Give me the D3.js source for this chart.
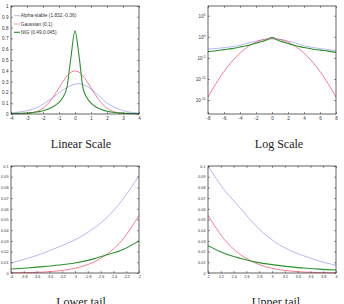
<!DOCTYPE html>
<html>
<head>
<meta charset="utf-8">
<style>
  body { margin: 0; background: #fff; }
  text { font-family: "Liberation Sans", Arial, sans-serif; }
</style>
</head>
<body>
<script src="https://d3js.org/d3.v7.min.js"></script>
<script>
// x grid shared by the three densities
var xs = [-8, -7, -6, -5, -4, -3.75, -3.5, -3.25, -3, -2.75, -2.5, -2.25, -2, -1.75, -1.5, -1.25, -1, -0.75, -0.5, -0.25,
          0, 0.25, 0.5, 0.75, 1, 1.25, 1.5, 1.75, 2, 2.25, 2.5, 2.75, 3, 3.25, 3.5, 3.75, 4, 5, 6, 7, 8];

// Alpha-stable (1.832,-0.36)
var alphaStable = [0.0012, 0.0017, 0.0027, 0.0048, 0.0095, 0.0135, 0.0185, 0.0245, 0.031, 0.040, 0.052, 0.069, 0.091, 0.115, 0.141, 0.168, 0.195, 0.222, 0.246, 0.264,
                   0.276, 0.280, 0.273, 0.256, 0.232, 0.201, 0.168, 0.134, 0.100, 0.078, 0.061, 0.044, 0.031, 0.022, 0.016, 0.011, 0.0072, 0.0032, 0.0016, 0.0009, 0.0005];
// Gaussian (0,1)
var gaussian = [5.05e-15, 9.13e-12, 6.08e-9, 1.49e-6, 1.34e-4, 3.5e-4, 8.7e-4, 2.03e-3, 4.43e-3, 9.1e-3, 0.0175, 0.0317, 0.054, 0.0863, 0.1295, 0.1826, 0.242, 0.3011, 0.3521, 0.3867,
                0.3989, 0.3867, 0.3521, 0.3011, 0.242, 0.1826, 0.1295, 0.0863, 0.054, 0.0317, 0.0175, 9.1e-3, 4.43e-3, 2.03e-3, 8.7e-4, 3.5e-4, 1.34e-4, 1.49e-6, 6.08e-9, 9.13e-12, 5.05e-15];
// NIG (0.49,0.045)
var nig = [3e-4, 5e-4, 9e-4, 1.6e-3, 3.7e-3, 4.7e-3, 6.0e-3, 7.5e-3, 9.4e-3, 0.0125, 0.017, 0.022, 0.030, 0.041, 0.057, 0.079, 0.108, 0.155, 0.25, 0.53,
           0.77, 0.54, 0.24, 0.15, 0.10, 0.072, 0.051, 0.036, 0.0255, 0.0185, 0.0138, 0.0102, 0.0078, 0.006, 0.0047, 0.0036, 0.0028, 0.0013, 0.0007, 0.0004, 0.0002];

var seriesNames = ["Alpha-stable (1.832,-0.36)", "Gaussian (0,1)", "NIG (0.49,0.045)"];
var seriesValues = [alphaStable, gaussian, nig];
var seriesColors = ["#9a9af0", "#ee4a66", "#2c922c"];
var seriesWidths = [0.7, 0.7, 1.1];
var legendDash = [null, "1.5,0.8", null];

// tick labels
var linXTicks = [-4, -3, -2, -1, 0, 1, 2, 3, 4];
var linYTicks = [0, 0.1, 0.2, 0.3, 0.4, 0.5, 0.6, 0.7, 0.8, 0.9, 1];
var logXTicks = [-8, -6, -4, -2, 0, 2, 4, 6, 8];
var logYExps = [5, 0, -5, -10, -15];
var lowXTicks = [-4, -3.8, -3.6, -3.4, -3.2, -3, -2.8, -2.6, -2.4, -2.2, -2];
var upXTicks = [2, 2.2, 2.4, 2.6, 2.8, 3, 3.2, 3.4, 3.6, 3.8, 4];
var tailYTicks = [0, 0.01, 0.02, 0.03, 0.04, 0.05, 0.06, 0.07, 0.08, 0.09, 0.1];

var svg = d3.select("body").append("svg")
    .attr("width", 344)
    .attr("height", 304);

var fmt = function(d) { return String(+d.toFixed(3)); };

function drawPanel(p) {
    var g = svg.append("g").attr("transform", "translate(" + p.left + "," + p.top + ")");
    var x = d3.scaleLinear().domain(p.xDomain).range([0, p.w]);
    var y = p.log ? d3.scaleLog().domain(p.yDomain).range([p.h, 0])
                  : d3.scaleLinear().domain(p.yDomain).range([p.h, 0]);

    // curves
    var clipId = "clip" + p.id;
    g.append("clipPath").attr("id", clipId).append("rect")
        .attr("width", p.w).attr("height", p.h + 0.5);
    var pts = xs.map(function(v, i) { return i; })
                .filter(function(i) { return xs[i] >= p.xDomain[0] - 1e-9 && xs[i] <= p.xDomain[1] + 1e-9; });
    for (var s = 0; s < seriesValues.length; s++) {
        var vals = seriesValues[s];
        var line = d3.line()
            .x(function(i) { return x(xs[i]); })
            .y(function(i) { return y(vals[i]); })
            .curve(d3.curveMonotoneX);
        g.append("path")
            .attr("d", line(pts))
            .attr("clip-path", "url(#" + clipId + ")")
            .attr("fill", "none")
            .attr("stroke", seriesColors[s])
            .attr("stroke-width", seriesWidths[s]);
    }

    // axes, ticks pointing inward on all four sides
    var fs = p.fontSize;
    var yVals = p.log ? logYExps.map(function(e) { return Math.pow(10, e); }) : p.yTicks;
    var xAxis = d3.axisBottom(x).tickValues(p.xTicks).tickFormat(fmt).tickSizeInner(-2).tickSizeOuter(0).tickPadding(2.5);
    var yAxis = d3.axisLeft(y).tickValues(yVals).tickFormat(p.log ? null : fmt)
        .tickSizeInner(-2).tickSizeOuter(0).tickPadding(2.5);
    var gx = g.append("g").attr("transform", "translate(0," + p.h + ")").call(xAxis);
    var gy = g.append("g").call(yAxis);
    g.append("g").call(d3.axisTop(x).tickValues(p.xTicks).tickFormat("").tickSizeInner(-2).tickSizeOuter(0));
    g.append("g").attr("transform", "translate(" + p.w + ",0)")
        .call(d3.axisRight(y).tickValues(yVals).tickFormat("").tickSizeInner(-2).tickSizeOuter(0));

    [gx, gy].forEach(function(a) {
        a.selectAll("text").attr("font-size", fs).attr("fill", "#333").style("font-family", "Liberation Sans, Arial, sans-serif");
    });
    g.selectAll(".tick line").attr("stroke", "#333").attr("stroke-width", 0.5);
    g.selectAll(".domain").remove();

    if (p.log) {
        gy.selectAll(".tick text").each(function(d) {
            var t = d3.select(this);
            var e = Math.round(Math.log10(d));
            t.text(null);
            t.append("tspan").text("10");
            t.append("tspan").attr("dy", -2).attr("font-size", fs * 0.7).text(e);
        });
    }

    g.append("rect").attr("width", p.w).attr("height", p.h)
        .attr("fill", "none").attr("stroke", "#222").attr("stroke-width", 0.7);

    svg.append("text")
        .attr("x", p.titleX).attr("y", p.titleY)
        .attr("text-anchor", "middle")
        .style("font-family", "Liberation Serif, DejaVu Serif, serif")
        .attr("font-size", 12)
        .attr("fill", "#222")
        .text(p.title);
    return g;
}

var g1 = drawPanel({ id: 1, left: 11, top: 6, w: 128, h: 108, xDomain: [-4, 4], yDomain: [0, 1],
    xTicks: linXTicks, yTicks: linYTicks, fontSize: 4.6, title: "Linear Scale", titleX: 81, titleY: 148 });
drawPanel({ id: 2, left: 208, top: 6, w: 128, h: 108, xDomain: [-8, 8], yDomain: [Math.pow(10, -18.3), Math.pow(10, 7.3)], log: true,
    xTicks: logXTicks, fontSize: 4.6, title: "Log Scale", titleX: 279, titleY: 148 });
drawPanel({ id: 3, left: 11, top: 166, w: 128, h: 107, xDomain: [-4, -2], yDomain: [0, 0.1],
    xTicks: lowXTicks, yTicks: tailYTicks, fontSize: 3.8, title: "Lower tail", titleX: 81, titleY: 306 });
drawPanel({ id: 4, left: 208, top: 166, w: 128, h: 107, xDomain: [2, 4], yDomain: [0, 0.1],
    xTicks: upXTicks, yTicks: tailYTicks, fontSize: 3.8, title: "Upper tail", titleX: 276, titleY: 306 });

// legend in the linear panel
var leg = g1.append("g").attr("transform", "translate(3,9.7)");
seriesNames.forEach(function(name, i) {
    var row = leg.append("g").attr("transform", "translate(0," + (i * 8.3) + ")");
    row.append("line").attr("x1", 0).attr("x2", 6).attr("y1", 0).attr("y2", 0)
        .attr("stroke", seriesColors[i]).attr("stroke-width", seriesWidths[i])
        .attr("stroke-dasharray", legendDash[i]);
    row.append("text").attr("x", 6.8).attr("y", 1.7)
        .attr("font-size", 4.8).attr("fill", "#333").text(name);
});
</script>
</body>
</html>
